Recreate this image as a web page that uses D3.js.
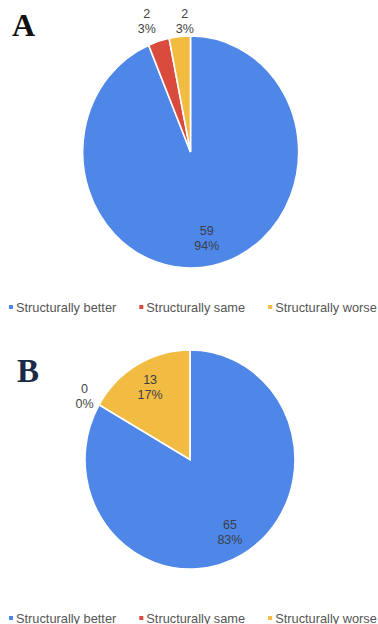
<!DOCTYPE html>
<html>
<head>
<meta charset="utf-8">
<script src="https://cdn.jsdelivr.net/npm/d3@7"></script>
<style>
  html, body { margin: 0; padding: 0; background: #ffffff; }
  svg { display: block; }
</style>
</head>
<body>
<svg id="chart" width="378" height="624"></svg>
<script>
// Outcome categories shared by both panels
const categories = ["Structurally better", "Structurally same", "Structurally worse"];
const colors = ["#4f87e8", "#d94b3c", "#f2bb41"];

// Counts per category
const valuesA = [59, 2, 2];
const valuesB = [65, 0, 13];

const panelLetters = ["A", "B"];

const svg = d3.select("#chart");
const color = d3.scaleOrdinal().domain(categories).range(colors);

const panels = [
  { letter: panelLetters[0], values: valuesA, cx: 190.5, cy: 152, rx: 108, ry: 116,
    letterX: 12, letterY: 36, letterSize: 32, letterColor: "#111111", legendY: 307 },
  { letter: panelLetters[1], values: valuesB, cx: 190, cy: 459.5, rx: 105, ry: 109.5,
    letterX: 17, letterY: 382, letterSize: 33, letterColor: "#1b2a47", legendY: 618 }
];

const pie = d3.pie().sort(null).value(d => d.value);
const unitArc = d3.arc().innerRadius(0).outerRadius(1);

panels.forEach(p => {
  const data = categories.map((c, i) => ({ category: c, value: p.values[i] }));
  const total = d3.sum(data, d => d.value);
  const arcs = pie(data);

  // slices drawn on a unit circle, stretched to the panel's radii
  const g = svg.append("g")
    .attr("transform", `translate(${p.cx},${p.cy}) scale(${p.rx},${p.ry})`);
  g.selectAll("path")
    .data(arcs.filter(a => a.data.value > 0))
    .join("path")
    .attr("d", unitArc)
    .attr("fill", d => color(d.data.category))
    .attr("stroke", "#ffffff")
    .attr("stroke-width", 1.6)
    .attr("vector-effect", "non-scaling-stroke");

  // label positions: large slices inside, small ones outside
  const labels = arcs.map(a => {
    const share = a.data.value / total;
    const mid = (a.startAngle + a.endAngle) / 2;
    const inside = share > 0.1;
    const k = inside ? 0.76 : 1.16;
    return {
      text1: String(a.data.value),
      text2: Math.round(share * 100) + "%",
      inside,
      x: p.cx + Math.sin(mid) * p.rx * k,
      y: p.cy - Math.cos(mid) * p.ry * k
    };
  });

  // separate overlapping outside labels
  const outside = labels.filter(l => !l.inside);
  const minGap = 38;
  for (let i = 0; i < outside.length; i++) {
    for (let j = i + 1; j < outside.length; j++) {
      const a = outside[i], b = outside[j];
      if (Math.abs(a.x - b.x) < minGap && Math.abs(a.y - b.y) < 30) {
        const mx = (a.x + b.x) / 2, my = (a.y + b.y) / 2;
        const left = a.x <= b.x ? a : b, right = left === a ? b : a;
        left.x = mx - minGap / 2; right.x = mx + minGap / 2;
        a.y = my; b.y = my;
      }
    }
  }

  const lg = svg.append("g")
    .attr("font-family", "'Liberation Sans', Arial, sans-serif")
    .attr("font-size", 12.5)
    .attr("text-anchor", "middle");
  labels.forEach(l => {
    const t = lg.append("text")
      .attr("fill", l.inside ? "#3a3f4a" : "#444444");
    t.append("tspan").attr("x", l.x).attr("y", l.y - 3).text(l.text1);
    t.append("tspan").attr("x", l.x).attr("y", l.y + 12).text(l.text2);
  });

  // panel letter
  svg.append("text")
    .attr("x", p.letterX)
    .attr("y", p.letterY)
    .attr("font-family", "'Liberation Serif', 'Times New Roman', serif")
    .attr("font-weight", "bold")
    .attr("font-size", p.letterSize)
    .attr("fill", p.letterColor)
    .text(p.letter);

  // legend row
  const leg = svg.append("g")
    .attr("font-family", "'Liberation Sans', Arial, sans-serif")
    .attr("font-size", 12.8)
    .attr("fill", "#555555");
  let x = 9;
  categories.forEach(c => {
    leg.append("rect")
      .attr("x", x).attr("y", p.legendY - 2)
      .attr("width", 4).attr("height", 4)
      .attr("fill", color(c));
    const t = leg.append("text")
      .attr("x", x + 7)
      .attr("y", p.legendY + 4.5)
      .text(c);
    x = x + 7 + t.node().getComputedTextLength() + 23;
  });
});
</script>
</body>
</html>
